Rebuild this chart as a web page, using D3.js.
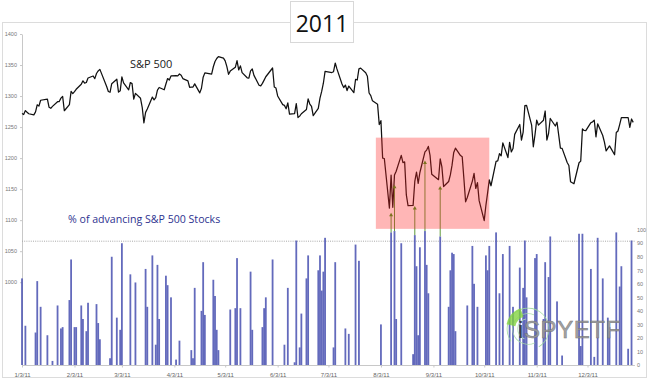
<!DOCTYPE html>
<html><head><meta charset="utf-8">
<script src="https://cdn.jsdelivr.net/npm/d3@7"></script>
<style>
html,body{margin:0;padding:0;background:#fff;}
svg{display:block;}
text{font-family:"Open Sans",sans-serif;}
</style></head>
<body>
<svg id="chart" width="650" height="383"></svg>
<script>
// ---------------- DATA ----------------
const title = "2011";
const seriesLine = "S&P 500";
const seriesBars = "% of advancing S&P 500 Stocks";

const spDays = [
"1/3","1/4","1/5","1/6","1/7","1/10","1/11","1/12","1/13","1/14","1/18","1/19","1/20","1/21","1/24","1/25","1/26","1/27","1/28","1/31",
"2/1","2/2","2/3","2/4","2/7","2/8","2/9","2/10","2/11","2/14","2/15","2/16","2/17","2/18","2/22","2/23","2/24","2/25","2/28",
"3/1","3/2","3/3","3/4","3/7","3/8","3/9","3/10","3/11","3/14","3/15","3/16","3/17","3/18","3/21","3/22","3/23","3/24","3/25","3/28","3/29","3/30","3/31",
"4/1","4/4","4/5","4/6","4/7","4/8","4/11","4/12","4/13","4/14","4/15","4/18","4/19","4/20","4/21","4/25","4/26","4/27","4/28","4/29",
"5/2","5/3","5/4","5/5","5/6","5/9","5/10","5/11","5/12","5/13","5/16","5/17","5/18","5/19","5/20","5/23","5/24","5/25","5/26","5/27","5/31",
"6/1","6/2","6/3","6/6","6/7","6/8","6/9","6/10","6/13","6/14","6/15","6/16","6/17","6/20","6/21","6/22","6/23","6/24","6/27","6/28","6/29","6/30",
"7/1","7/5","7/6","7/7","7/8","7/11","7/12","7/13","7/14","7/15","7/18","7/19","7/20","7/21","7/22","7/25","7/26","7/27","7/28","7/29",
"8/1","8/2","8/3","8/4","8/5","8/8","8/9","8/10","8/11","8/12","8/15","8/16","8/17","8/18","8/19","8/22","8/23","8/24","8/25","8/26","8/29","8/30","8/31",
"9/1","9/2","9/6","9/7","9/8","9/9","9/12","9/13","9/14","9/15","9/16","9/19","9/20","9/21","9/22","9/23","9/26","9/27","9/28","9/29","9/30",
"10/3","10/4","10/5","10/6","10/7","10/10","10/11","10/12","10/13","10/14","10/17","10/18","10/19","10/20","10/21","10/24","10/25","10/26","10/27","10/28","10/31",
"11/1","11/2","11/3","11/4","11/7","11/8","11/9","11/10","11/11","11/14","11/15","11/16","11/17","11/18","11/21","11/22","11/23","11/25","11/28","11/29","11/30",
"12/1","12/2","12/5","12/6","12/7","12/8","12/9","12/12","12/13","12/14","12/15","12/16","12/19","12/20","12/21","12/22","12/23","12/27","12/28","12/29","12/30"
];
const spClose = [
1271.87,1270.20,1276.56,1273.85,1271.50,1269.75,1274.48,1285.96,1283.76,1293.24,1295.02,1281.92,1280.26,1283.35,1290.84,1291.18,1296.63,1299.54,1276.34,1286.12,
1307.59,1304.03,1307.10,1310.87,1319.05,1324.57,1320.88,1321.87,1329.15,1332.32,1328.01,1336.32,1340.43,1343.01,1315.44,1307.40,1306.10,1319.88,1327.22,
1306.33,1308.44,1330.97,1321.15,1310.13,1321.82,1320.02,1295.11,1304.28,1296.39,1281.87,1256.88,1273.72,1279.21,1298.38,1293.77,1297.54,1309.66,1313.80,1310.19,1319.44,1328.26,1325.83,
1332.41,1332.87,1332.63,1335.54,1333.51,1328.17,1324.46,1314.16,1314.41,1314.52,1319.68,1305.14,1312.62,1330.36,1337.38,1335.25,1347.24,1355.66,1360.48,1363.61,
1361.22,1356.62,1347.32,1335.10,1340.20,1346.29,1357.16,1342.08,1348.65,1337.77,1329.47,1328.98,1340.68,1343.60,1333.27,1317.37,1316.28,1320.47,1325.69,1331.10,1345.20,
1314.55,1312.94,1300.16,1286.17,1284.94,1279.56,1289.00,1270.98,1271.83,1287.87,1265.42,1267.64,1271.50,1278.36,1295.52,1287.14,1283.50,1268.45,1280.10,1296.67,1307.41,1320.64,
1339.67,1337.88,1339.22,1353.22,1343.80,1319.49,1313.64,1317.72,1308.87,1316.14,1305.44,1326.73,1325.84,1343.80,1345.02,1337.43,1331.94,1304.89,1300.67,1292.28,
1286.94,1254.05,1260.34,1200.07,1199.38,1119.46,1172.53,1120.76,1172.64,1178.81,1204.49,1192.76,1193.89,1140.65,1123.53,1123.82,1162.35,1177.60,1159.27,1176.80,1210.08,1212.92,1218.89,
1204.42,1173.97,1165.24,1198.62,1185.90,1154.23,1162.27,1172.87,1188.68,1209.11,1216.01,1204.09,1202.09,1166.76,1129.56,1136.43,1162.95,1175.38,1151.06,1160.40,1131.42,
1099.23,1123.95,1144.03,1164.97,1155.46,1194.89,1195.54,1207.25,1203.66,1224.58,1200.86,1225.38,1209.88,1215.39,1238.25,1254.19,1229.05,1242.00,1284.59,1285.09,1253.30,
1218.28,1237.90,1261.15,1253.23,1261.12,1275.92,1229.10,1239.70,1263.85,1251.78,1257.81,1236.91,1216.13,1215.65,1192.98,1188.04,1161.79,1158.67,1192.55,1195.19,1246.96,
1244.58,1244.28,1257.08,1258.47,1261.01,1234.35,1255.19,1236.47,1225.73,1211.82,1215.75,1219.66,1205.35,1241.30,1243.72,1254.00,1265.33,1265.43,1249.64,1263.02,1257.60
];

const barDays = [
"1/3","1/5","1/11","1/12","1/14","1/18","1/21","1/24","1/26","1/27","1/31",
"2/1","2/3","2/4","2/7","2/8","2/10","2/11","2/16","2/17","2/18","2/24","2/25","2/28",
"3/2","3/3","3/8","3/11","3/17","3/18","3/21","3/23","3/24","3/25","3/29","3/30",
"4/1","4/4","4/6","4/13","4/14","4/15","4/19","4/20","4/21","4/26","4/27","4/28","4/29",
"5/6","5/9","5/10","5/12","5/18","5/19","5/25","5/26","5/27","5/31",
"6/7","6/9","6/13","6/14","6/16","6/17","6/20","6/21","6/27","6/28","6/29","6/30",
"7/1","7/6","7/7","7/13","7/15","7/19","7/21",
"8/3","8/9","8/11","8/12","8/15","8/22","8/23","8/24","8/25","8/26","8/29","8/30","8/31",
"9/7","9/12","9/13","9/14","9/15","9/16","9/23","9/26","9/27","9/29",
"10/4","10/5","10/6","10/10","10/12","10/14","10/18","10/20","10/24","10/26","10/27","10/28",
"11/2","11/3","11/7","11/8","11/10","11/11","11/15","11/18","11/28","11/29","11/30",
"12/5","12/7","12/9","12/12","12/15","12/16","12/20","12/22","12/23","12/27","12/29"
];
const barPct = [
64,29,24,62,43,22,3,44,27,28,48,
78,28,28,44,34,25,46,45,31,19,5,80,35,
26,90,67,61,71,43,81,15,74,34,66,59,
50,4,18,11,5,57,40,76,37,63,51,26,11,
41,42,79,42,69,26,28,42,50,78,
15,57,2,92,13,38,64,81,70,81,55,69,
94,13,76,27,23,89,77,
30,98,99,34,90,8,96,73,22,87,99,74,53,
95,43,70,83,82,25,44,88,60,43,
81,70,88,98,53,82,88,43,72,57,92,50,
79,82,34,76,65,95,47,7,97,14,97,
71,6,94,64,35,28,98,58,73,12,92
];

const arrowDays = ["8/9","8/11","8/23","8/29","9/7"];
const arrowTips = [1112,1157,1123,1196,1155];
const highlightDays = ["7/31","10/6"];
const highlightVals = [1086,1233];
const leftTicks = [1000,1050,1100,1150,1200,1250,1300,1350,1400];
const rightTicks = [0,10,20,30,40,50,60,70,80,90,100];
const monthTickDays = ["1/3","2/3","3/3","4/3","5/3","6/3","7/3","8/3","9/3","10/3","11/3","12/3"];
const monthTickLabels = ["1/3/11","2/3/11","3/3/11","4/3/11","5/3/11","6/3/11","7/3/11","8/3/11","9/3/11","10/3/11","11/3/11","12/3/11"];
const thresholdPct = 91.5;
const logoText = ["i","SPYETF"];

// ---------------- SCALES ----------------
const parse = s => d3.utcParse("%m/%d/%Y")(s + "/2011");
const svg = d3.select("#chart");

const x = d3.scaleUtc().domain([parse("1/3"), parse("12/3")]).range([22, 587.5]);
const yS = d3.scaleLinear().domain([866.6, 1400]).range([365, 34]);
const yP = d3.scaleLinear().domain([0, 100]).range([365, 229.7]);

// frame
svg.append("rect").attr("x",2.5).attr("y",22.5).attr("width",644).attr("height",355)
  .attr("fill","#fff").attr("stroke","#dcdcdc").attr("stroke-width",1);

// left axis
const gL = svg.append("g").attr("transform","translate(22,0)")
  .call(d3.axisLeft(yS).tickValues(leftTicks).tickFormat(d3.format("d")).tickSize(2).tickSizeOuter(0).tickPadding(3));
gL.select(".domain").attr("stroke","#c8c8c8");
gL.selectAll(".tick line").attr("stroke","#c8c8c8");
gL.selectAll("text").attr("font-size",5.5).attr("fill","#777").style("font-family","Liberation Sans, Arial");

// right axis labels
const gR = svg.append("g").attr("transform","translate(634,0)")
  .call(d3.axisRight(yP).tickValues(rightTicks).tickSize(0).tickPadding(3));
gR.select(".domain").remove();
gR.selectAll("text").attr("font-size",5.5).attr("fill","#777").style("font-family","Liberation Sans, Arial");

// baseline & bottom axis
const xEnd = x(parse("12/31"));
svg.append("line").attr("x1",22).attr("x2",xEnd).attr("y1",365.5).attr("y2",365.5)
  .attr("stroke","#c8c8c8");
const gB = svg.append("g").attr("transform","translate(0,365.5)")
  .call(d3.axisBottom(x).tickValues(monthTickDays.map(parse))
    .tickFormat((d,i)=>monthTickLabels[i]).tickSize(2).tickPadding(5));
gB.select(".domain").remove();
gB.selectAll(".tick line").attr("stroke","#c8c8c8");
gB.selectAll("text").attr("font-size",6).attr("fill","#666").style("font-family","Liberation Sans, Arial");

// threshold dotted line
svg.append("line").attr("x1",22).attr("x2",xEnd).attr("y1",yP(thresholdPct)).attr("y2",yP(thresholdPct))
  .attr("stroke","#a8a8a8").attr("stroke-width",1).attr("stroke-dasharray","1,1.2");

// bars
svg.append("g").selectAll("rect").data(barDays.map((d,i)=>({d:parse(d),v:barPct[i]})))
  .join("rect")
  .attr("x",d=>x(d.d)-0.9).attr("width",1.8)
  .attr("y",d=>yP(d.v)).attr("height",d=>yP(0)-yP(d.v))
  .attr("fill","#4850b0").attr("fill-opacity",0.85);

// S&P line
const lineData = spDays.map((d,i)=>({d:parse(d),v:spClose[i]}));
svg.append("path").datum(lineData)
  .attr("d", d3.line().x(d=>x(d.d)).y(d=>yS(d.v)))
  .attr("fill","none").attr("stroke","#111").attr("stroke-width",1.25).attr("stroke-linejoin","round");

// arrows
const gA = svg.append("g");
arrowDays.forEach((d,i)=>{
  const ax = x(parse(d));
  const bi = barDays.indexOf(d);
  const yb = yP(barPct[bi]);
  const yt = yS(arrowTips[i]);
  gA.append("line").attr("x1",ax).attr("x2",ax).attr("y1",yb).attr("y2",yt+3)
    .attr("stroke","#5f9a3a").attr("stroke-width",1);
  gA.append("path").attr("d",`M${ax-2},${yt+3.5}L${ax+2},${yt+3.5}L${ax},${yt}Z`).attr("fill","#3e9a1e");
});

// highlight box
svg.append("rect")
  .attr("x",x(parse(highlightDays[0]))).attr("width",x(parse(highlightDays[1]))-x(parse(highlightDays[0])))
  .attr("y",yS(highlightVals[1])).attr("height",yS(highlightVals[0])-yS(highlightVals[1]))
  .attr("fill","#ff2020").attr("fill-opacity",0.33);

// labels
svg.append("text").attr("x",130).attr("y",67.5).attr("font-size",11).attr("fill","#222").text(seriesLine);
svg.append("text").attr("x",68).attr("y",223).attr("font-size",10.6).attr("fill","#2e3290").text(seriesBars);

// title box
svg.append("rect").attr("x",290.5).attr("y",1.5).attr("width",63).attr("height",41)
  .attr("fill","#fff").attr("stroke","#d8d8d8");
svg.append("text").attr("x",322).attr("y",32).attr("text-anchor","middle")
  .attr("font-size",23).attr("fill","#111").text(title);

// logo
const lg = svg.append("g").attr("opacity",0.9);
const cx = 528, cy = 329;
const arc = d3.arc();
lg.append("path").attr("transform",`translate(${cx},${cy})`)
  .attr("d",arc({innerRadius:20.5,outerRadius:21.3,startAngle:-2.2,endAngle:2.6})).attr("fill","#9ad89a");
lg.append("path").attr("transform",`translate(${cx},${cy})`)
  .attr("d",arc({innerRadius:15,outerRadius:15.8,startAngle:-3.6,endAngle:0.4})).attr("fill","#a8dca8");
lg.append("path").attr("transform",`translate(${cx},${cy})`)
  .attr("d",arc({innerRadius:10,outerRadius:10.8,startAngle:-2.8,endAngle:-0.2})).attr("fill","#b5e3b5");
lg.append("path").attr("transform",`translate(${cx},${cy})`)
  .attr("d",arc({innerRadius:13,outerRadius:22,startAngle:-1.35,endAngle:-0.35})).attr("fill","#7fd23a").attr("opacity",0.85);
const lt = lg.append("text").attr("x",518).attr("y",338).attr("font-size",24)
  .style("font-family","Liberation Sans, Arial").attr("letter-spacing",0.6);
lt.append("tspan").attr("fill","#333").text(logoText[0]);
lt.append("tspan").attr("fill","#9a9a9a").attr("stroke","#6e6e6e").attr("stroke-width",0.5).text(logoText[1]);
</script>
</body></html>
